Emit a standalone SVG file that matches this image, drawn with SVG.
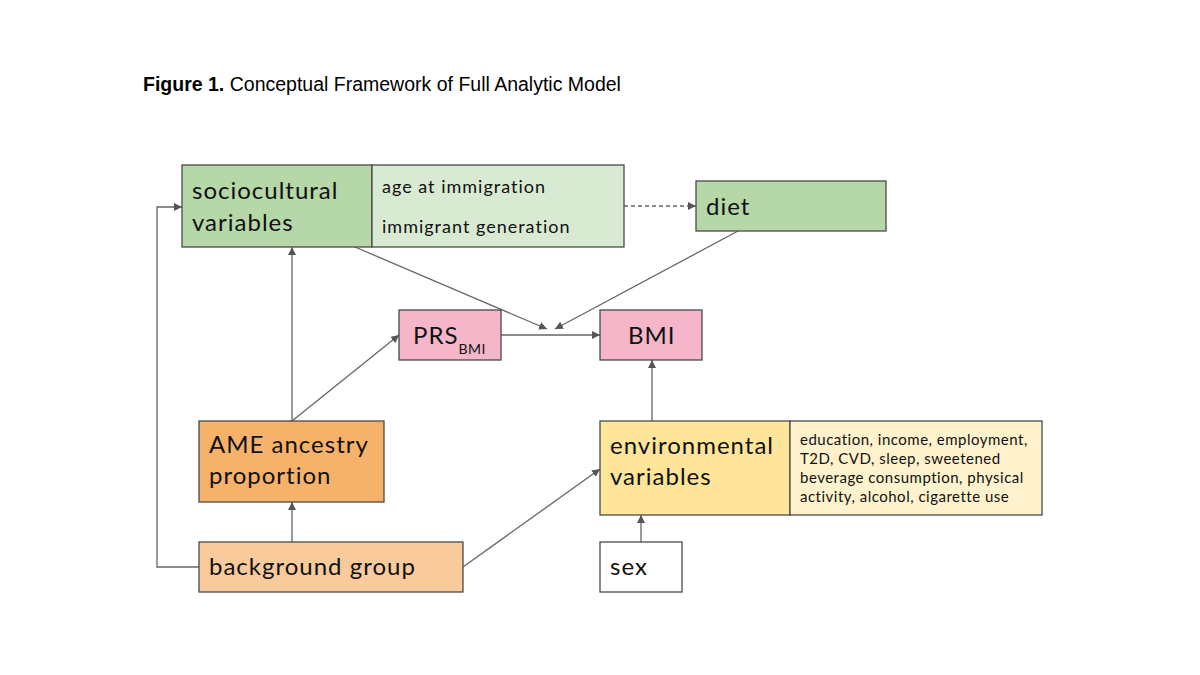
<svg xmlns="http://www.w3.org/2000/svg" width="1200" height="675" viewBox="0 0 1200 675">
<style>
.box{stroke:#4a4a4a;stroke-width:1.3}
.t{font-family:Lato,"Open Sans",sans-serif;fill:#111}
.big{font-size:24px;letter-spacing:1px}
.mid{font-size:18px;letter-spacing:1px}
.sm{font-size:15px;letter-spacing:0.5px}
.ln{stroke:#666;stroke-width:1.3;fill:none}
</style>
<defs>
<marker id="ah" viewBox="0 0 10 10" refX="10" refY="5" markerWidth="8" markerHeight="8" markerUnits="userSpaceOnUse" orient="auto"><path d="M0,0 L10,5 L0,10 z" fill="#555"/></marker>
</defs>
<rect width="1200" height="675" fill="#fff"/>
<text x="143" y="91" font-family="Liberation Sans,Arial,sans-serif" font-size="19.5" fill="#000"><tspan font-weight="bold">Figure 1.</tspan> Conceptual Framework of Full Analytic Model</text>

<g id="connectors">
<line class="ln" x1="624" y1="206" x2="696" y2="206" stroke-dasharray="4,3" marker-end="url(#ah)"/>
<line class="ln" x1="355" y1="247" x2="547" y2="329" marker-end="url(#ah)"/>
<line class="ln" x1="738" y1="231" x2="555" y2="329" marker-end="url(#ah)"/>
<line class="ln" x1="501" y1="335" x2="600" y2="335" marker-end="url(#ah)"/>
<line class="ln" x1="292" y1="421" x2="292" y2="247" marker-end="url(#ah)"/>
<line class="ln" x1="292" y1="421" x2="399" y2="335" marker-end="url(#ah)"/>
<line class="ln" x1="292" y1="542" x2="292" y2="502" marker-end="url(#ah)"/>
<polyline class="ln" points="199,567 157,567 157,207 182,207" marker-end="url(#ah)"/>
<line class="ln" x1="463" y1="567" x2="600" y2="469" marker-end="url(#ah)"/>
<line class="ln" x1="652" y1="421" x2="652" y2="360" marker-end="url(#ah)"/>
<line class="ln" x1="641" y1="542" x2="641" y2="515" marker-end="url(#ah)"/>
</g>

<g id="sociocultural">
<rect class="box" x="182" y="165" width="190" height="82" fill="#b6d7a8"/>
<rect class="box" x="372" y="165" width="252" height="82" fill="#d9ead3"/>
<text class="t big" x="192" y="199">sociocultural</text>
<text class="t big" x="192" y="231">variables</text>
<text class="t mid" x="382" y="193">age at immigration</text>
<text class="t mid" x="382" y="233">immigrant generation</text>
</g>

<g id="diet">
<rect class="box" x="696" y="181" width="190" height="50" fill="#b6d7a8"/>
<text class="t big" x="706" y="215">diet</text>
</g>

<g id="prs">
<rect class="box" x="399" y="310" width="102" height="50" fill="#f4b6c8"/>
<text class="t big" x="413" y="344">PRS<tspan font-size="14" letter-spacing="0.5" dy="10">BMI</tspan></text>
</g>

<g id="bmi">
<rect class="box" x="600" y="310" width="102" height="50" fill="#f4b6c8"/>
<text class="t big" x="628" y="344">BMI</text>
</g>

<g id="ame">
<rect class="box" x="199" y="421" width="185" height="81" fill="#f6b26b"/>
<text class="t big" x="209" y="453">AME ancestry</text>
<text class="t big" x="209" y="484">proportion</text>
</g>

<g id="background">
<rect class="box" x="199" y="542" width="264" height="50" fill="#f9cb9c"/>
<text class="t big" x="209" y="575">background group</text>
</g>

<g id="environmental">
<rect class="box" x="600" y="421" width="190" height="94" fill="#ffe599"/>
<rect class="box" x="790" y="421" width="252" height="94" fill="#fff2cc"/>
<text class="t big" x="610" y="454">environmental</text>
<text class="t big" x="610" y="485">variables</text>
<text class="t sm" x="800" y="445">education, income, employment,</text>
<text class="t sm" x="800" y="464">T2D, CVD, sleep, sweetened</text>
<text class="t sm" x="800" y="483">beverage consumption, physical</text>
<text class="t sm" x="800" y="502">activity, alcohol, cigarette use</text>
</g>

<g id="sex">
<rect class="box" x="600" y="542" width="82" height="50" fill="#fff"/>
<text class="t big" x="610" y="575">sex</text>
</g>
</svg>
